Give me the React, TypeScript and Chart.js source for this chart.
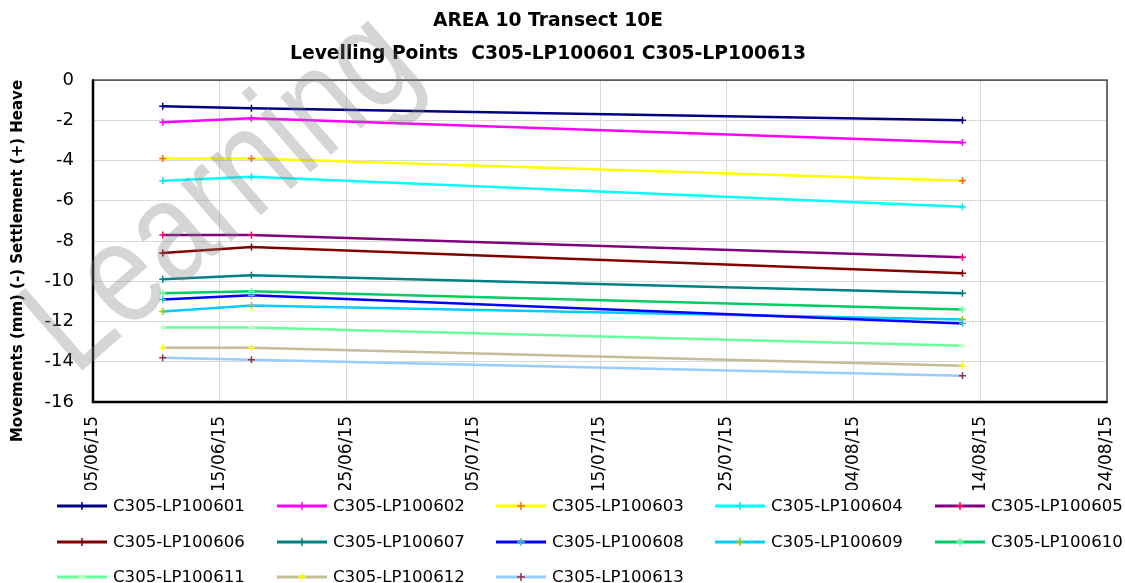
import React, { useEffect, useRef } from 'react';
import { Chart, registerables } from 'chart.js';

Chart.register(...registerables);

// ---- Text ----
const TITLE_LINES = ['AREA 10 Transect 10E', 'Levelling Points  C305-LP100601 C305-LP100613'];
const Y_TITLE = 'Movements (mm) (-) Settlement (+) Heave';
const WATERMARK = 'Learning';

// ---- X axis (days since 05/06/15) ----
const AXIS_START_UTC = Date.UTC(2015, 5, 5);
const X_MIN_DAYS = 0;
const X_MAX_DAYS = 80;
const X_STEP_DAYS = 10;

// ---- Y axis ----
const Y_MIN = -16;
const Y_MAX = 0;
const Y_STEP = 2;

// Survey dates as days after 05/06/15
const surveyDays = [5.5, 12.5, 68.6];

const seriesNames = [
  'C305-LP100601', 'C305-LP100602', 'C305-LP100603', 'C305-LP100604', 'C305-LP100605',
  'C305-LP100606', 'C305-LP100607', 'C305-LP100608', 'C305-LP100609', 'C305-LP100610',
  'C305-LP100611', 'C305-LP100612', 'C305-LP100613',
];

const lp100601 = [-1.3, -1.4, -2.0];
const lp100602 = [-2.1, -1.9, -3.1];
const lp100603 = [-3.9, -3.9, -5.0];
const lp100604 = [-5.0, -4.8, -6.3];
const lp100605 = [-7.7, -7.7, -8.8];
const lp100606 = [-8.6, -8.3, -9.6];
const lp100607 = [-9.9, -9.7, -10.6];
const lp100608 = [-10.9, -10.7, -12.1];
const lp100609 = [-11.5, -11.2, -11.9];
const lp100610 = [-10.6, -10.5, -11.4];
const lp100611 = [-12.3, -12.3, -13.2];
const lp100612 = [-13.3, -13.3, -14.2];
const lp100613 = [-13.8, -13.9, -14.7];

const seriesValues = [
  lp100601, lp100602, lp100603, lp100604, lp100605, lp100606, lp100607,
  lp100608, lp100609, lp100610, lp100611, lp100612, lp100613,
];

const lineColors = [
  '#000080', '#FF00FF', '#FFFF00', '#00FFFF', '#800080', '#800000', '#008080',
  '#0000FF', '#00CCFF', '#00CC66', '#66FF99', '#C4BD97', '#99CCFF',
];
const markerColors = [
  '#000080', '#FF00FF', '#FF6600', '#00E5E5', '#FF0066', '#800000', '#008080',
  '#33CCCC', '#99CC00', '#66FF99', '#CCFFCC', '#FFFF00', '#993333',
];

// legend layout
const LEGEND_COLS_X = [57, 277, 496, 715, 935];
const LEGEND_ROWS_Y = [506, 542, 577];

const FONT = '"DejaVu Sans", sans-serif';

function formatDay(v: number): string {
  const d = new Date(AXIS_START_UTC + v * 86400000);
  const dd = String(d.getUTCDate()).padStart(2, '0');
  const mm = String(d.getUTCMonth() + 1).padStart(2, '0');
  const yy = String(d.getUTCFullYear() % 100).padStart(2, '0');
  return `${dd}/${mm}/${yy}`;
}

// clip everything the chart draws above the legend band (as in the reference)
const clipPlugin = {
  id: 'clipTop',
  beforeDraw(chart: any) {
    const { ctx } = chart;
    ctx.save();
    ctx.beginPath();
    ctx.rect(0, 0, chart.width, 490);
    ctx.clip();
  },
  afterDraw(chart: any) {
    chart.ctx.restore();
  },
};

const framePlugin = {
  id: 'frame',
  beforeDatasetsDraw(chart: any) {
    const { ctx, chartArea: a } = chart;
    ctx.save();
    ctx.strokeStyle = '#404040';
    ctx.lineWidth = 1.5;
    ctx.strokeRect(a.left, a.top, a.right - a.left, a.bottom - a.top);
    ctx.strokeStyle = '#000';
    ctx.lineWidth = 2.5;
    ctx.beginPath();
    ctx.moveTo(a.left, a.top);
    ctx.lineTo(a.left, a.bottom);
    ctx.lineTo(a.right, a.bottom);
    ctx.stroke();
    ctx.restore();
  },
};

const yTitlePlugin = {
  id: 'yTitle',
  afterDraw(chart: any) {
    const { ctx } = chart;
    ctx.save();
    ctx.translate(18, 261);
    ctx.rotate(-Math.PI / 2);
    ctx.textAlign = 'center';
    ctx.textBaseline = 'middle';
    ctx.fillStyle = '#000';
    ctx.font = `bold 15px ${FONT}`;
    ctx.fillText(Y_TITLE, 0, 0);
    ctx.restore();
  },
};

const watermarkPlugin = {
  id: 'watermark',
  afterDraw(chart: any) {
    const { ctx } = chart;
    ctx.save();
    ctx.translate(75, 377);
    ctx.rotate((-41 * Math.PI) / 180);
    ctx.scale(0.82, 1);
    ctx.textAlign = 'left';
    ctx.textBaseline = 'alphabetic';
    ctx.fillStyle = 'rgba(128,128,128,0.33)';
    ctx.font = '145px "Liberation Sans", sans-serif';
    ctx.fillText(WATERMARK, 0, 0);
    ctx.restore();
  },
};

function LegendItem({ name, color, marker, x, y }: any) {
  return (
    <div
      style={{
        position: 'absolute',
        left: x,
        top: y - 12,
        height: 24,
        display: 'flex',
        alignItems: 'center',
        whiteSpace: 'nowrap',
      }}
    >
      <svg width={50} height={12} style={{ display: 'block' }}>
        <line x1={0} y1={6} x2={50} y2={6} stroke={color} strokeWidth={3} />
        <line x1={25} y1={2} x2={25} y2={10} stroke={marker} strokeWidth={1.5} />
        <line x1={21} y1={6} x2={29} y2={6} stroke={marker} strokeWidth={1.5} />
      </svg>
      <span
        style={{
          marginLeft: 6,
          fontFamily: FONT,
          fontSize: 16.6,
          color: '#000',
          lineHeight: '24px',
        }}
      >
        {name}
      </span>
    </div>
  );
}

export default function App() {
  const canvasRef = useRef<HTMLCanvasElement | null>(null);

  useEffect(() => {
    if (!canvasRef.current) return;
    const yTickFont = { family: FONT, size: 18 };
    const xTickFont = { family: FONT, size: 17 };
    const chart = new Chart(canvasRef.current, {
      type: 'line',
      data: {
        datasets: seriesNames.map((name, i) => ({
          label: name,
          data: surveyDays.map((d, j) => ({ x: d, y: seriesValues[i][j] })),
          borderColor: lineColors[i],
          backgroundColor: lineColors[i],
          borderWidth: 2.5,
          pointStyle: 'cross',
          pointRadius: 3.5,
          pointBorderWidth: 1.5,
          pointBorderColor: markerColors[i],
          pointBackgroundColor: markerColors[i],
          fill: false,
          tension: 0,
        })),
      },
      options: {
        animation: false,
        responsive: false,
        events: [],
        layout: { padding: { left: -11, right: 18, top: 0, bottom: 93 } },
        plugins: {
          legend: { display: false },
          tooltip: { enabled: false },
          title: {
            display: true,
            text: TITLE_LINES,
            color: '#000',
            font: { family: FONT, size: 18.7, weight: 'bold', lineHeight: 1.74 },
            padding: { top: 5, bottom: 10 },
          },
        },
        scales: {
          x: {
            type: 'linear',
            min: X_MIN_DAYS,
            max: X_MAX_DAYS,
            ticks: {
              stepSize: X_STEP_DAYS,
              autoSkip: false,
              minRotation: 90,
              maxRotation: 90,
              padding: 14,
              color: '#000',
              font: xTickFont,
              callback: (v: any) => formatDay(Number(v)),
            },
            grid: { color: '#d9d9d9', lineWidth: 1, drawTicks: false },
            border: { display: true, color: '#000', width: 2 },
            afterFit: (s: any) => {
              s.height = 88;
              s.paddingLeft = 0;
              s.paddingRight = 0;
            },
          },
          y: {
            min: Y_MIN,
            max: Y_MAX,
            ticks: {
              stepSize: Y_STEP,
              padding: 19,
              color: '#000',
              font: yTickFont,
            },
            grid: { color: '#d9d9d9', lineWidth: 1, drawTicks: false },
            border: { display: true, color: '#000', width: 2 },
            afterFit: (s: any) => {
              s.width = 104;
            },
          },
        },
      },
      plugins: [clipPlugin, framePlugin, yTitlePlugin, watermarkPlugin],
    } as any);
    return () => chart.destroy();
  }, []);

  return (
    <div style={{ position: 'fixed', left: 0, top: 0, width: 1125, height: 583, background: '#fff' }}>
      <canvas ref={canvasRef} width={1125} height={583} style={{ width: 1125, height: 583, display: 'block' }} />
      {seriesNames.map((name, i) => (
        <LegendItem
          key={name}
          name={name}
          color={lineColors[i]}
          marker={markerColors[i]}
          x={LEGEND_COLS_X[i % 5]}
          y={LEGEND_ROWS_Y[Math.floor(i / 5)]}
        />
      ))}
    </div>
  );
}
